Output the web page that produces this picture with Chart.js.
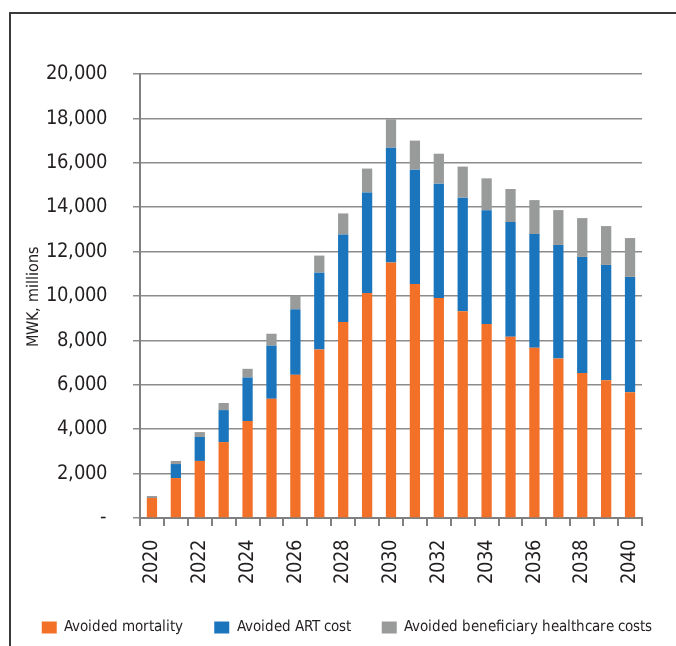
<!DOCTYPE html>
<html>
<head>
<meta charset="utf-8">
<script src="https://cdn.jsdelivr.net/npm/chart.js@4/dist/chart.umd.min.js"></script>
<style>
  @font-face {
    font-family: 'NarrowFace';
    src: local('Liberation Sans Narrow'), local('LiberationSansNarrow-Regular'),
         local('DejaVu Sans Condensed'), local('DejaVuSansCondensed');
  }
  html, body { margin: 0; padding: 0; background: #fff; }
  #wrap { position: relative; width: 676px; height: 646px; }
  #frame { position: absolute; left: 9px; top: 12px; right: 0; bottom: 0;
           border-left: 2px solid #3a3a3a; border-top: 2px solid #3a3a3a; pointer-events: none; }
</style>
</head>
<body>
<div id="wrap">
  <canvas id="chart" width="676" height="646"></canvas>
  <div id="frame"></div>
</div>
<script>
const years = ['2020', '2021', '2022', '2023', '2024', '2025', '2026', '2027', '2028', '2029', '2030',
               '2031', '2032', '2033', '2034', '2035', '2036', '2037', '2038', '2039', '2040'];

const avoidedMortality = [900, 1800, 2570, 3420, 4370, 5370, 6450, 7590, 8830, 10140, 11510,
                          10540, 9910, 9310, 8740, 8170, 7670, 7180, 6530, 6210, 5670];
const avoidedArt = [0, 630, 1080, 1440, 1960, 2390, 2950, 3460, 3940, 4520, 5170,
                    5150, 5150, 5120, 5120, 5160, 5120, 5120, 5230, 5190, 5190];
const avoidedHealthcare = [90, 140, 220, 320, 390, 540, 620, 770, 950, 1080, 1280,
                           1310, 1350, 1400, 1440, 1490, 1530, 1570, 1750, 1750, 1750];

const yMax = 20000;
const yStep = 2000;

const font = 'NarrowFace, "Liberation Sans Narrow", "DejaVu Sans Condensed", sans-serif';
const textColor = '#231f20';

// the legend in the reference sits a little right of centre
const shiftLegend = {
    id: 'shiftLegend',
    afterLayout(c) {
        c.legend.left += 9;
        c.legend.right += 9;
    }
};

function draw() {
    const chart = document.getElementById('chart');
    new Chart(chart, {
        type: 'bar',
        data: {
            labels: years,
            datasets: [
                { label: 'Avoided mortality', data: avoidedMortality, backgroundColor: '#f37029' },
                { label: 'Avoided ART cost', data: avoidedArt, backgroundColor: '#1b75bc' },
                { label: 'Avoided beneficiary healthcare costs', data: avoidedHealthcare, backgroundColor: '#999b9b' }
            ]
        },
        plugins: [shiftLegend],
        options: {
            responsive: false,
            animation: false,
            datasets: { bar: { barPercentage: 0.43, categoryPercentage: 1 } },
            layout: { padding: { top: 74, right: 0, left: 0, bottom: 1 } },
            plugins: {
                tooltip: { enabled: false },
                legend: {
                    position: 'bottom',
                    labels: {
                        boxWidth: 15,
                        boxHeight: 12,
                        padding: 31,
                        color: textColor,
                        font: { family: font, size: 15 }
                    }
                }
            },
            scales: {
                x: {
                    stacked: true,
                    afterFit: s => { s.height = 71; },
                    grid: { drawOnChartArea: false, drawTicks: true, tickLength: 8, color: '#808080', lineWidth: 2 },
                    border: { display: true, color: '#808080', width: 2 },
                    ticks: {
                        autoSkip: false,
                        maxRotation: 90,
                        minRotation: 90,
                        padding: 14,
                        color: textColor,
                        font: { family: font, size: 20 },
                        callback: (v, i) => (i % 2 === 0 ? years[i] : '')
                    }
                },
                y: {
                    stacked: true,
                    min: 0,
                    max: yMax,
                    afterFit: s => { s.width = 140; },
                    grid: { color: '#8c8c8c', lineWidth: 1.5, tickLength: 7 },
                    border: { display: true, color: '#808080', width: 2 },
                    ticks: {
                        stepSize: yStep,
                        padding: 26,
                        color: textColor,
                        font: { family: font, size: 20 },
                        callback: v => (v === 0 ? '-' : v.toLocaleString('en-US'))
                    },
                    title: {
                        display: true,
                        text: 'MWK, millions',
                        color: textColor,
                        padding: { top: 24, bottom: 0 },
                        font: { family: font, size: 16 }
                    }
                },
                // empty right-hand margin, keeps the plot off the right edge
                yRight: {
                    position: 'right',
                    afterFit: s => { s.width = 34; },
                    grid: { display: false },
                    border: { display: false },
                    ticks: { display: false }
                }
            }
        }
    });
}

document.fonts.load('20px NarrowFace').then(draw, draw);
</script>
</body>
</html>
